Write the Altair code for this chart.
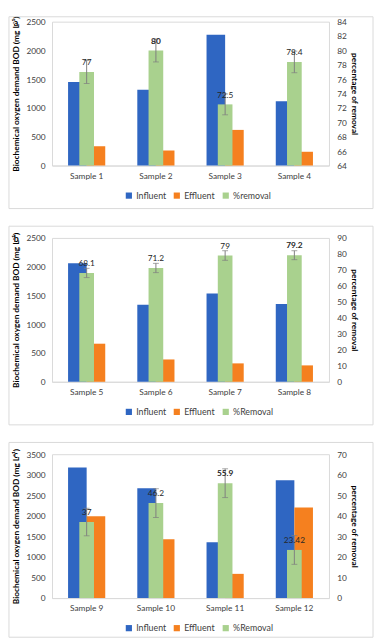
import altair as alt
import pandas as pd

FONT = "Lato"
BLUE = "#2F66C2"
ORANGE = "#F5801F"
GREEN = "#A9D18E"
GRID = "#D9D9D9"
ERR = "#7F7F7F"
TXT = "#404040"

# ---- panel a ----
samples_a = ["Sample 1", "Sample 2", "Sample 3", "Sample 4"]
influent_a = [1450, 1318, 2273, 1119]
effluent_a = [335, 261, 619, 239]
removal_a = [77, 80, 72.5, 78.4]
error_a = [1.6, 1.6, 1.45, 1.5]
labels_a = ["77", "80", "72.5", "78.4"]
bold_a = [False, True, False, False]
left_ticks_a = [0, 500, 1000, 1500, 2000, 2500]
right_ticks_a = [64, 66, 68, 70, 72, 74, 76, 78, 80, 82, 84]

# ---- panel b ----
samples_b = ["Sample 5", "Sample 6", "Sample 7", "Sample 8"]
influent_b = [2060, 1341, 1535, 1353]
effluent_b = [662, 388, 320, 285]
removal_b = [68.1, 71.2, 79, 79.2]
error_b = [2.9, 2.9, 3.0, 2.8]
labels_b = ["68.1", "71.2", "79", "79.2"]
bold_b = [False, False, False, True]
left_ticks_b = [0, 500, 1000, 1500, 2000, 2500]
right_ticks_b = [0, 10, 20, 30, 40, 50, 60, 70, 80, 90]

# ---- panel c ----
samples_c = ["Sample 9", "Sample 10", "Sample 11", "Sample 12"]
influent_c = [3174, 2673, 1360, 2864]
effluent_c = [1989, 1432, 589, 2203]
removal_c = [37, 46.2, 55.9, 23.42]
error_c = [6.7, 7.0, 7.0, 7.0]
labels_c = ["37", "46.2", "55.9", "23.42"]
bold_c = [False, False, True, False]
left_ticks_c = [0, 500, 1000, 1500, 2000, 2500, 3000, 3500]
right_ticks_c = [0, 10, 20, 30, 40, 50, 60, 70]

W, H = 283, 147


def panel(tag, samples, influent, effluent, removal, error, labels, bold,
          lticks, rticks, removal_name, box_top, box_bottom):
    n = len(samples)
    long_df = pd.DataFrame({
        "sample": samples * 2,
        "series": ["Influent"] * n + ["Effluent"] * n,
        "value": influent + effluent,
    })
    rem_df = pd.DataFrame({
        "sample": samples,
        "series": [removal_name] * n,
        "removal": removal,
        "lo": [r - e for r, e in zip(removal, error)],
        "hi": [r + e for r, e in zip(removal, error)],
        "label": labels,
        "bold": bold,
    })

    color = alt.Color(
        "series:N",
        scale=alt.Scale(domain=["Influent", "Effluent", removal_name],
                        range=[BLUE, ORANGE, GREEN]),
        legend=alt.Legend(title=None, orient="none", direction="horizontal",
                          legendX=74, legendY=H + 26, symbolType="square",
                          symbolSize=40, symbolStrokeWidth=0, labelFontSize=9,
                          labelFont=FONT, labelColor=TXT, columnPadding=6,
                          labelOffset=3, padding=0),
    )
    x = alt.X("sample:N", sort=samples,
              scale=alt.Scale(paddingInner=0.463, paddingOuter=0.2315),
              axis=alt.Axis(title=None, labelAngle=0, ticks=False, labelPadding=6,
                            domainColor=GRID, labelFontSize=8.5, labelFont=FONT,
                            labelColor=TXT))

    box = alt.Chart(alt.Data(values=[{"k": 0}])).mark_rect(
        fill="white", fillOpacity=0, stroke=GRID, strokeWidth=1, clip=False
    ).encode(x=alt.value(-44), x2=alt.value(W + 45),
             y=alt.value(box_top), y2=alt.value(box_bottom))

    tag_txt = alt.Chart(alt.Data(values=[{"k": 0}])).mark_text(
        text=tag, fontWeight="bold", fontSize=9, font=FONT, align="left",
        baseline="middle", color="#000000"
    ).encode(x=alt.value(-39), y=alt.value(1))

    bars = alt.Chart(long_df).mark_bar().encode(
        x=x,
        xOffset=alt.XOffset("series:N", sort=["Influent", "Effluent"],
                            scale=alt.Scale(paddingInner=0, paddingOuter=0)),
        y=alt.Y("value:Q",
                scale=alt.Scale(domain=[lticks[0], lticks[-1]], nice=False),
                axis=alt.Axis(values=lticks, format="d",
                              title="Biochemical oxygen demand BOD (mg L⁻¹)",
                              ticks=False, domain=False, grid=False, labelPadding=7,
                              labelFontSize=8.5, labelFont=FONT, labelColor=TXT,
                              titleFont=FONT, titleFontSize=8.5, titleFontWeight="bold",
                              titleColor="#000000", titlePadding=6)),
        color=color,
    )

    yr = alt.Scale(domain=[rticks[0], rticks[-1]], nice=False, zero=False)
    raxis = alt.Axis(orient="right", values=rticks, format="d",
                     title="percentage of removal",
                     ticks=False, domain=False, grid=False, labelPadding=8,
                     labelFontSize=8.5, labelFont=FONT, labelColor=TXT,
                     titleFont=FONT, titleFontSize=8.5, titleFontWeight="bold",
                     titleColor="#000000", titlePadding=3)
    base_r = alt.Chart(rem_df)
    green = base_r.mark_bar(width=15).encode(
        x=x,
        y=alt.Y("removal:Q", scale=yr, axis=raxis),
        y2=alt.datum(rticks[0]),
        color=color,
    )
    rule = base_r.mark_rule(color=ERR, strokeWidth=1).encode(
        x=x, y=alt.Y("lo:Q", scale=yr, axis=raxis), y2="hi:Q")
    tick_lo = base_r.mark_tick(size=6, thickness=1, color=ERR).encode(
        x=x, y=alt.Y("lo:Q", scale=yr, axis=raxis))
    tick_hi = base_r.mark_tick(size=6, thickness=1, color=ERR).encode(
        x=x, y=alt.Y("hi:Q", scale=yr, axis=raxis))
    txt = base_r.mark_text(dy=-10, fontSize=8.5, font=FONT, color="#262626").encode(
        x=x, y=alt.Y("removal:Q", scale=yr, axis=raxis), text="label:N"
    ).transform_filter("!datum.bold")
    txt_b = base_r.mark_text(dy=-10, fontSize=8.5, font=FONT, fontWeight="bold",
                             color="#262626").encode(
        x=x, y=alt.Y("removal:Q", scale=yr, axis=raxis), text="label:N"
    ).transform_filter("datum.bold")

    right = alt.layer(green, rule, tick_lo, tick_hi, txt, txt_b)
    return alt.layer(box, tag_txt, bars, right).resolve_scale(y="independent").properties(
        width=W, height=H)


pa = panel("a", samples_a, influent_a, effluent_a, removal_a, error_a, labels_a, bold_a,
           left_ticks_a, right_ticks_a, "%removal", -5, 191)
pb = panel("b", samples_b, influent_b, effluent_b, removal_b, error_b, labels_b, bold_b,
           left_ticks_b, right_ticks_b, "%Removal", -12, 191)
pc = panel("c", samples_c, influent_c, effluent_c, removal_c, error_c, labels_c, bold_c,
           left_ticks_c, right_ticks_c, "%Removal", -12, 187)

chart = alt.vconcat(pa, pb, pc, spacing=16).resolve_scale(
    color="independent"
).properties(
    padding=0, background="white"
).configure_view(stroke=GRID, strokeWidth=1)

chart.save("out.html", embed_options={"renderer": "svg", "actions": False})
